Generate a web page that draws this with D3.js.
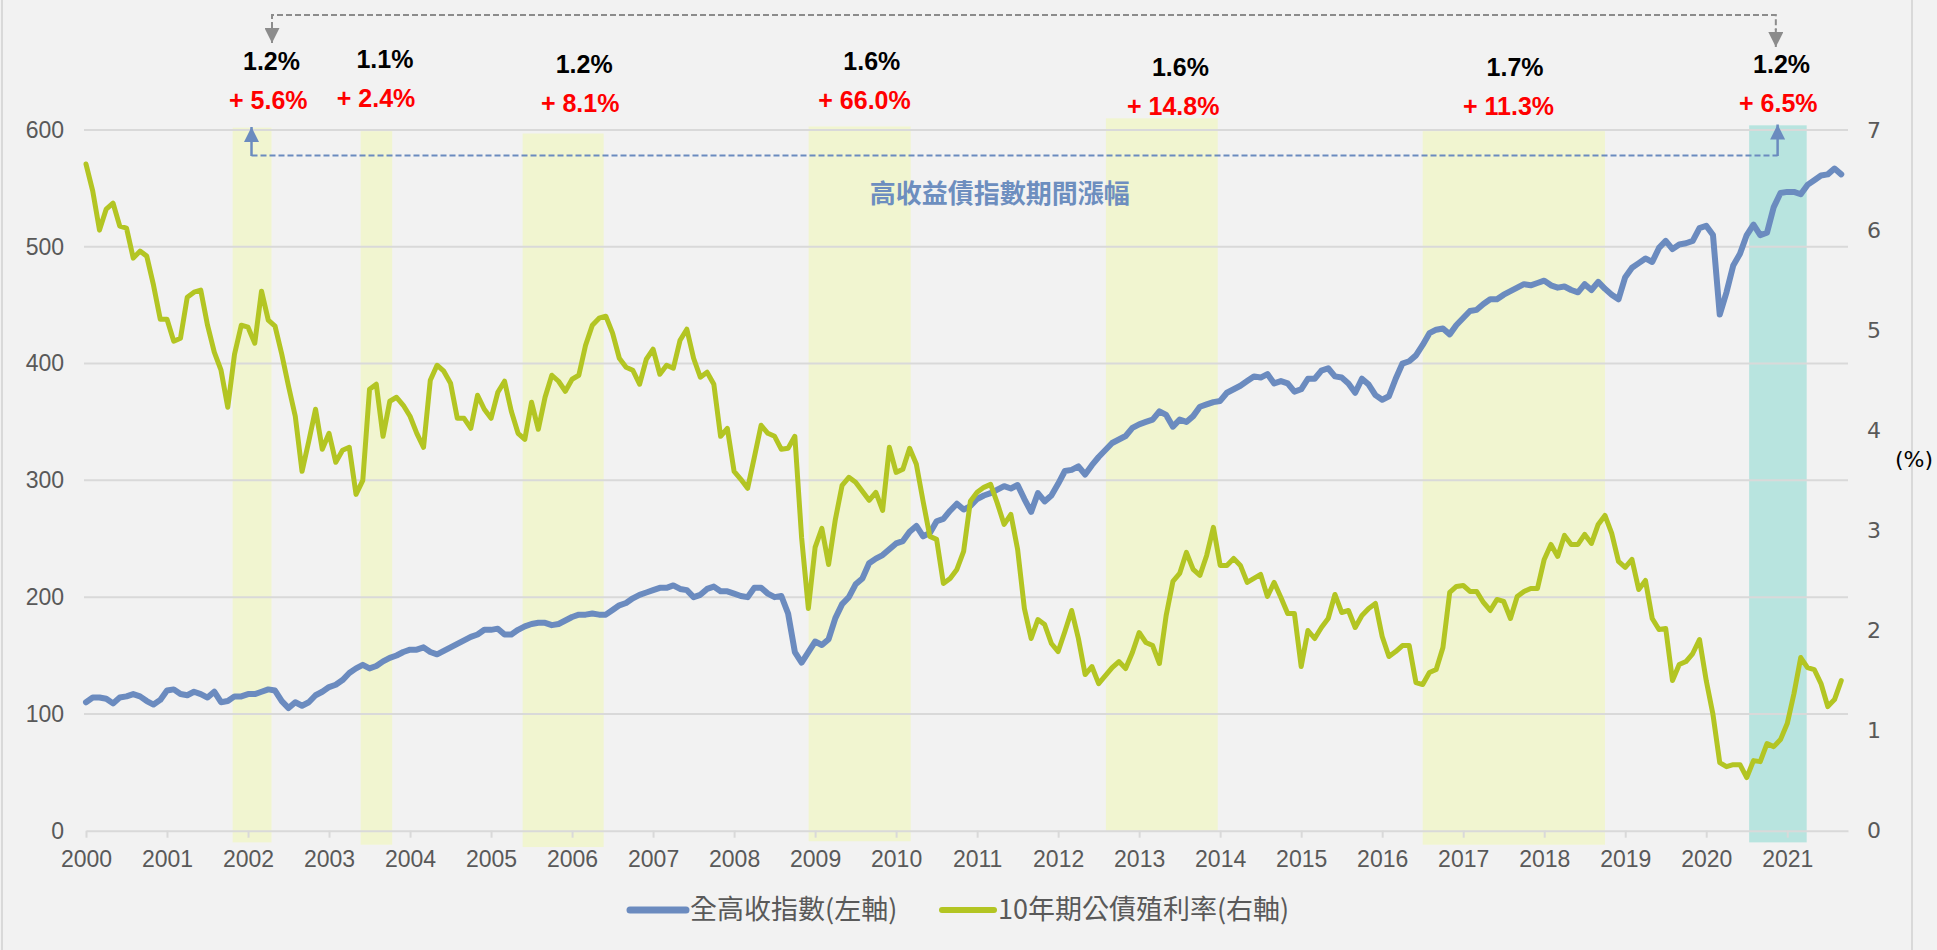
<!DOCTYPE html>
<html>
<head>
<meta charset="utf-8">
<script src="https://cdn.jsdelivr.net/npm/d3@7"></script>
<style>
  html, body { margin: 0; padding: 0; background: #f2f2f2; }
  svg { display: block; }
</style>
</head>
<body>
<div id="chart"></div>
<script>
// monthly data, first point = Jan 2000
const startYear = 2000;

// ICE BofA US high yield index (left axis)
const hyIndex = [
  110, 114, 114, 113, 109, 114, 115, 117, 115, 111, 108, 112,
  120, 121, 117, 116, 119, 117, 114, 119, 110, 111, 115, 115,
  117, 117, 119, 121, 120, 111, 105, 110, 107, 110, 116, 119,
  123, 125, 129, 135, 139, 142, 139, 141, 145, 148, 150, 153,
  155, 155, 157, 153, 151, 154, 157, 160, 163, 166, 168, 172,
  172, 173, 168, 168, 172, 175, 177, 178, 178, 176, 177, 180,
  183, 185, 185, 186, 185, 185, 189, 193, 195, 199, 202, 204,
  206, 208, 208, 210, 207, 206, 200, 202, 207, 209, 205, 205,
  203, 201, 200, 208, 208, 203, 200, 201, 186, 153, 144, 153,
  162, 159, 164, 182, 194, 200, 211, 216, 229, 233, 236, 241,
  246, 248, 256, 261, 252, 255, 265, 267, 274, 280, 275, 278,
  284, 287, 289, 292, 295, 293, 296, 284, 273, 289, 282, 287,
  297, 308, 309, 312, 305, 313, 320, 326, 332, 335, 338, 345,
  348, 350, 352, 359, 356, 346, 352, 350, 355, 363, 365, 367,
  368, 375, 378, 381, 385, 389, 388, 391, 383, 385, 383, 376,
  378, 387, 387, 394, 396, 389, 388, 383, 375, 387, 382, 373,
  369, 372, 387, 400, 402, 407, 416, 426, 429, 430, 425, 433,
  439, 445, 446, 451, 455, 455, 459, 462, 465, 468, 467, 469,
  471, 467, 465, 466, 463, 461, 468, 463, 470, 464, 459, 455,
  474, 482, 486, 490, 487, 499, 505, 498, 502, 503, 505, 516,
  518, 510, 442, 461, 484, 494, 510, 519, 510, 512, 534, 546,
  547, 547, 545, 553, 557, 561, 562, 567, 562
];

// 10y treasury yield, % (right axis)
const tsyYield = [
  6.66, 6.39, 6.00, 6.21, 6.27, 6.04, 6.02, 5.72, 5.79, 5.74, 5.45, 5.11,
  5.11, 4.89, 4.92, 5.33, 5.38, 5.40, 5.05, 4.78, 4.60, 4.23, 4.76, 5.05,
  5.03, 4.87, 5.39, 5.10, 5.04, 4.76, 4.44, 4.14, 3.59, 3.89, 4.21, 3.81,
  3.97, 3.68, 3.80, 3.83, 3.36, 3.50, 4.41, 4.46, 3.94, 4.29, 4.33, 4.25,
  4.14, 3.97, 3.83, 4.50, 4.65, 4.59, 4.47, 4.12, 4.12, 4.02, 4.35, 4.21,
  4.12, 4.38, 4.49, 4.19, 3.97, 3.91, 4.28, 4.01, 4.33, 4.55, 4.49, 4.39,
  4.51, 4.55, 4.85, 5.05, 5.12, 5.14, 4.97, 4.72, 4.63, 4.60, 4.46, 4.71,
  4.81, 4.56, 4.65, 4.62, 4.90, 5.01, 4.72, 4.53, 4.58, 4.46, 3.94, 4.02,
  3.59, 3.51, 3.42, 3.73, 4.05, 3.97, 3.94, 3.81, 3.82, 3.94, 2.93, 2.22,
  2.83, 3.02, 2.66, 3.11, 3.45, 3.53, 3.48, 3.39, 3.30, 3.38, 3.20, 3.83,
  3.58, 3.61, 3.82, 3.66, 3.29, 2.94, 2.91, 2.47, 2.52, 2.61, 2.79, 3.29,
  3.38, 3.43, 3.46, 3.27, 3.06, 3.16, 2.81, 2.22, 1.92, 2.11, 2.06, 1.87,
  1.79, 1.99, 2.20, 1.92, 1.56, 1.64, 1.47, 1.55, 1.63, 1.69, 1.62, 1.78,
  1.98, 1.88, 1.85, 1.67, 2.15, 2.49, 2.57, 2.78, 2.61, 2.55, 2.75, 3.03,
  2.65, 2.65, 2.72, 2.65, 2.48, 2.52, 2.56, 2.34, 2.48, 2.33, 2.17, 2.17,
  1.64, 2.00, 1.92, 2.03, 2.12, 2.36, 2.18, 2.20, 2.03, 2.15, 2.22, 2.27,
  1.94, 1.74, 1.79, 1.85, 1.85, 1.48, 1.46, 1.58, 1.61, 1.83, 2.38, 2.44,
  2.45, 2.39, 2.39, 2.28, 2.20, 2.31, 2.29, 2.12, 2.34, 2.39, 2.42, 2.42,
  2.71, 2.86, 2.74, 2.95, 2.86, 2.86, 2.96, 2.87, 3.06, 3.15, 2.97, 2.69,
  2.63, 2.71, 2.41, 2.50, 2.12, 2.01, 2.02, 1.50, 1.66, 1.69, 1.77, 1.91,
  1.50, 1.16, 0.68, 0.64, 0.66, 0.66, 0.53, 0.70, 0.69, 0.87, 0.84, 0.91,
  1.07, 1.37, 1.73, 1.63, 1.61, 1.47, 1.24, 1.31, 1.50
];

const yearTicks = d3.range(2000, 2022);
const leftTicks = [0, 100, 200, 300, 400, 500, 600];
const rightTicks = [0, 1, 2, 3, 4, 5, 6, 7];

// shaded periods (decimal years), the last one is the current period
const bandStart = [2001.81, 2003.39, 2005.39, 2008.92, 2012.59, 2016.50, 2020.53];
const bandEnd   = [2002.29, 2003.78, 2006.39, 2010.18, 2013.97, 2018.75, 2021.24];
const bandTop    = [602, 599, 597, 603, 610, 599, 604];
const bandBottom = [-10, -12, -14, -9, 0, -12, -10];

// yield at start of period and HY index gain over the period
const yieldLabels = ['1.2%', '1.1%', '1.2%', '1.6%', '1.6%', '1.7%', '1.2%'];
const gainLabels = ['+ 5.6%', '+ 2.4%', '+ 8.1%', '+ 66.0%', '+ 14.8%', '+ 11.3%', '+ 6.5%'];
const yieldLabelYears = [2002.29, 2003.69, 2006.15, 2009.70, 2013.51, 2017.64, 2020.93];
const gainLabelYears = [2002.25, 2003.58, 2006.10, 2009.61, 2013.42, 2017.56, 2020.89];
const labelShift = [0, -2, 3, 0, 6, 6, 3];

const seriesNames = ['全高收指數(左軸)', '10年期公債殖利率(右軸)'];
const gainTitle = '高收益債指數期間漲幅';

const W = 1937, H = 950;
const blue = '#6b8bbf', green = '#b3c523', grid = '#d9d9d9', tickGray = '#595959';

const svg = d3.select('#chart').append('svg')
  .attr('width', W).attr('height', H)
  .style('font-family', '"Liberation Sans", Arial, sans-serif');

svg.append('rect').attr('width', W).attr('height', H).attr('fill', '#f2f2f2');
svg.append('line').attr('x1', 2).attr('x2', 2).attr('y1', 0).attr('y2', H)
  .attr('stroke', grid).attr('stroke-width', 2);
svg.append('line').attr('x1', 1912).attr('x2', 1912).attr('y1', 0).attr('y2', H)
  .attr('stroke', grid).attr('stroke-width', 2);

const x = d3.scaleLinear().domain([2000, 2021.75]).range([86, 1848]);
const yL = d3.scaleLinear().domain([0, 600]).range([830.7, 130]);
const yR = d3.scaleLinear().domain([0, 7]).range([830.7, 130]);

// shaded bands
svg.append('g').selectAll('rect')
  .data(bandStart)
  .join('rect')
  .attr('x', (d, i) => x(d))
  .attr('width', (d, i) => x(bandEnd[i]) - x(d))
  .attr('y', (d, i) => yL(bandTop[i]))
  .attr('height', (d, i) => yL(bandBottom[i]) - yL(bandTop[i]))
  .attr('fill', (d, i) => i === bandStart.length - 1 ? '#b8e4df' : '#f1f5d0');

// gridlines
svg.append('g').selectAll('line')
  .data(leftTicks.filter(d => d > 0))
  .join('line')
  .attr('x1', 84).attr('x2', 1848)
  .attr('y1', d => yL(d)).attr('y2', d => yL(d))
  .attr('stroke', grid).attr('stroke-width', 2);

// x axis
const xAxis = svg.append('g')
  .attr('transform', `translate(0,${yL(0)})`)
  .call(d3.axisBottom(x).tickValues(yearTicks).tickFormat(d3.format('d'))
    .tickSize(7).tickSizeOuter(0).tickPadding(13));
xAxis.select('.domain').attr('stroke', grid).attr('stroke-width', 2);
xAxis.selectAll('.tick line').attr('stroke', grid).attr('stroke-width', 2);
xAxis.selectAll('text').attr('fill', tickGray).attr('font-size', 23)
  .attr('font-family', '"Liberation Sans", Arial, sans-serif');

// left axis
const yAxisL = svg.append('g')
  .attr('transform', `translate(${x.range()[0]},0)`)
  .call(d3.axisLeft(yL).tickValues(leftTicks).tickSize(0).tickPadding(22));
yAxisL.select('.domain').remove();
yAxisL.selectAll('text').attr('fill', tickGray).attr('font-size', 23)
  .attr('font-family', '"Liberation Sans", Arial, sans-serif');

// right axis
const yAxisR = svg.append('g')
  .attr('transform', `translate(${x.range()[1]},0)`)
  .call(d3.axisRight(yR).tickValues(rightTicks).tickFormat(d3.format('d'))
    .tickSize(0).tickPadding(19));
yAxisR.select('.domain').remove();
yAxisR.selectAll('text').attr('fill', tickGray).attr('font-size', 22)
  .attr('font-family', '"DejaVu Sans", Verdana, sans-serif');

svg.append('text')
  .attr('x', 1914).attr('y', 459).attr('dy', '0.35em')
  .attr('text-anchor', 'middle')
  .attr('font-family', '"DejaVu Sans", Verdana, sans-serif')
  .attr('font-size', 22).attr('fill', '#000')
  .text('(%)');

// series
const hyLine = d3.line()
  .x((d, i) => x(startYear + i / 12))
  .y(d => yL(d));
const tsyLine = d3.line()
  .x((d, i) => x(startYear + i / 12))
  .y(d => yR(d));

svg.append('path').datum(hyIndex)
  .attr('d', hyLine)
  .attr('fill', 'none').attr('stroke', blue).attr('stroke-width', 6)
  .attr('stroke-linejoin', 'round').attr('stroke-linecap', 'round');

svg.append('path').datum(tsyYield)
  .attr('d', tsyLine)
  .attr('fill', 'none').attr('stroke', green).attr('stroke-width', 5)
  .attr('stroke-linejoin', 'round').attr('stroke-linecap', 'round');

// arrow heads
const defs = svg.append('defs');
function arrowHead(id, color) {
  defs.append('marker')
    .attr('id', id)
    .attr('viewBox', '0 0 10 10')
    .attr('refX', 10).attr('refY', 5)
    .attr('markerUnits', 'userSpaceOnUse')
    .attr('markerWidth', 15).attr('markerHeight', 15)
    .attr('orient', 'auto')
    .append('path').attr('d', 'M0,0 L10,5 L0,10 Z').attr('fill', color);
}
arrowHead('arrGray', '#8c8c8c');
arrowHead('arrBlue', blue);

// grey bracket: yield comparison between first and current period
const grayL = x(2002.296), grayR = x(2020.859);
svg.append('path')
  .attr('d', `M${grayL},28 L${grayL},15 L${grayR},15 L${grayR},30`)
  .attr('fill', 'none').attr('stroke', '#8c8c8c').attr('stroke-width', 2)
  .attr('stroke-dasharray', '6,3');
svg.append('line').attr('x1', grayL).attr('x2', grayL).attr('y1', 27).attr('y2', 43)
  .attr('stroke', '#8c8c8c').attr('stroke-width', 2).attr('marker-end', 'url(#arrGray)');
svg.append('line').attr('x1', grayR).attr('x2', grayR).attr('y1', 29).attr('y2', 47)
  .attr('stroke', '#8c8c8c').attr('stroke-width', 2).attr('marker-end', 'url(#arrGray)');

// blue bracket: HY index gains
const blueL = x(2002.043), blueR = x(2020.881);
svg.append('line')
  .attr('x1', blueL).attr('x2', blueR).attr('y1', 155.5).attr('y2', 155.5)
  .attr('stroke', blue).attr('stroke-width', 2).attr('stroke-dasharray', '6,3');
svg.append('line').attr('x1', blueL).attr('x2', blueL).attr('y1', 156).attr('y2', 127)
  .attr('stroke', blue).attr('stroke-width', 2.5).attr('marker-end', 'url(#arrBlue)');
svg.append('line').attr('x1', blueR).attr('x2', blueR).attr('y1', 156).attr('y2', 124.5)
  .attr('stroke', blue).attr('stroke-width', 2.5).attr('marker-end', 'url(#arrBlue)');

svg.append('text')
  .attr('x', x(2011.28)).attr('y', 194).attr('dy', '0.35em')
  .attr('text-anchor', 'middle')
  .attr('font-family', '"Noto Sans CJK TC", "Noto Sans CJK SC", sans-serif')
  .attr('font-weight', 'bold').attr('font-size', 26).attr('fill', '#6d8ebf')
  .text(gainTitle);

// period labels
svg.append('g').selectAll('text')
  .data(yieldLabels)
  .join('text')
  .attr('x', (d, i) => x(yieldLabelYears[i]))
  .attr('y', (d, i) => 70 + labelShift[i])
  .attr('text-anchor', 'middle')
  .attr('font-weight', 'bold').attr('font-size', 25).attr('fill', '#000')
  .text(d => d);

svg.append('g').selectAll('text')
  .data(gainLabels)
  .join('text')
  .attr('x', (d, i) => x(gainLabelYears[i]))
  .attr('y', (d, i) => 109 + labelShift[i])
  .attr('text-anchor', 'middle')
  .attr('font-weight', 'bold').attr('font-size', 25).attr('fill', '#ff0000')
  .text(d => d);

// legend
const legend = svg.append('g')
  .attr('font-family', '"Noto Sans CJK TC", "Noto Sans CJK SC", sans-serif')
  .attr('font-size', 27).attr('fill', tickGray);
const legendX = [630, 942];
const legendW = [56, 52];
[blue, green].forEach((c, i) => {
  legend.append('line')
    .attr('x1', legendX[i]).attr('x2', legendX[i] + legendW[i])
    .attr('y1', 910).attr('y2', 910)
    .attr('stroke', c).attr('stroke-width', i === 0 ? 7 : 6)
    .attr('stroke-linecap', 'round');
  legend.append('text')
    .attr('x', legendX[i] + legendW[i] + 4).attr('y', 910).attr('dy', '0.35em')
    .text(seriesNames[i]);
});
</script>
</body>
</html>
